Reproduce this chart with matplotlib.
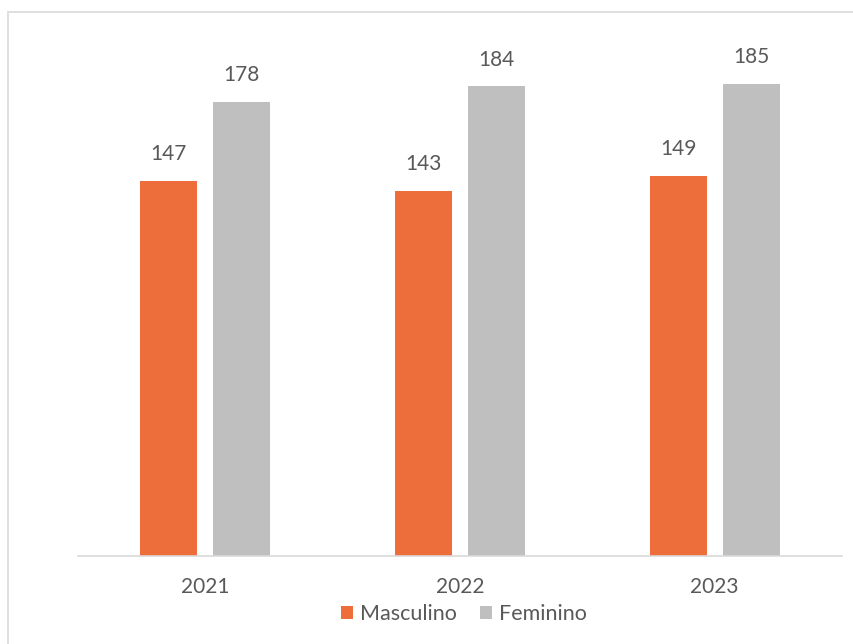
import matplotlib.pyplot as plt
import numpy as np
from matplotlib.patches import Rectangle

# dados
anos = ['2021', '2022', '2023']
masculino = [147, 143, 149]
feminino = [178, 184, 185]

cor_masc = '#ED6D3B'
cor_fem = '#BFBFBF'
cor_texto = '#595959'

plt.rcParams['font.family'] = ['Lato', 'DejaVu Sans']

fig = plt.figure(figsize=(8.54, 6.44), dpi=100)
ax = fig.add_axes([78 / 854, 88 / 644, 764 / 854, 536 / 644])

x = np.arange(len(anos))
largura = 0.224
desloc = 0.143

b1 = ax.bar(x - desloc, masculino, width=largura, color=cor_masc, label='Masculino')
b2 = ax.bar(x + desloc, feminino, width=largura, color=cor_fem, label='Feminino')

for barras in (b1, b2):
    for b in barras:
        ax.annotate(str(int(b.get_height())), (b.get_x() + b.get_width() / 2, b.get_height()),
                    xytext=(0, 12), textcoords='offset points', ha='center', va='bottom',
                    fontsize=15, color=cor_texto)

ax.set_xlim(-0.5, 2.5)
ax.set_ylim(0, 210)
ax.set_xticks(x)
ax.set_xticklabels(anos, fontsize=15, color=cor_texto)
ax.tick_params(axis='x', length=0, pad=15)
ax.set_yticks([])
for lado in ['top', 'right', 'left']:
    ax.spines[lado].set_visible(False)
ax.spines['bottom'].set_color('#D9D9D9')
ax.spines['bottom'].set_linewidth(1.2)

# legenda embaixo
fig.legend(loc='center', bbox_to_anchor=(464 / 854, 1 - 614 / 644), ncol=2, frameon=False,
           fontsize=15.5, labelcolor=cor_texto, handlelength=0.55, handleheight=0.55,
           handletextpad=0.3, columnspacing=1.1)

# borda do gráfico
fig.patches.append(Rectangle((8 / 854, -0.1), 1.0, 1.1 - 12 / 644, transform=fig.transFigure,
                             fill=False, edgecolor='#D9D9D9', linewidth=1.2))

plt.savefig('out.png', dpi=100)
